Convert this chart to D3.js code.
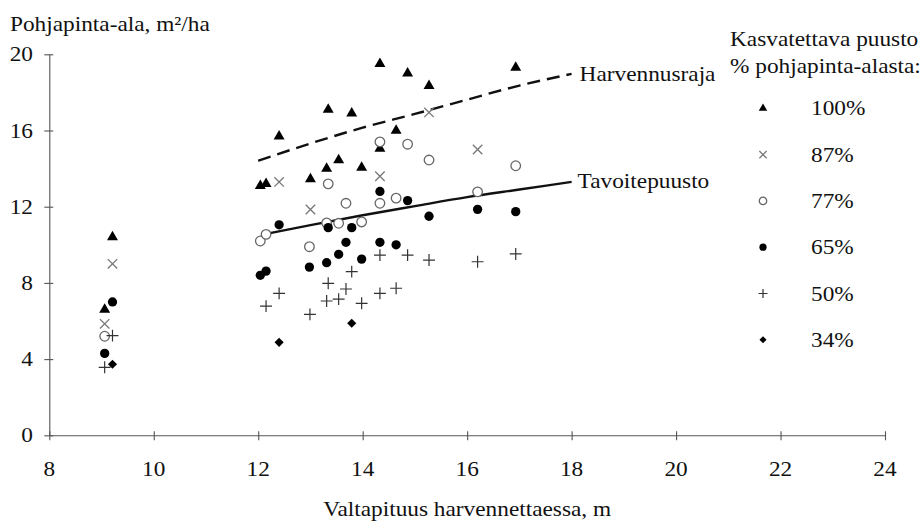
<!DOCTYPE html>
<html>
<head>
<meta charset="utf-8">
<script src="https://cdn.jsdelivr.net/npm/d3@7"></script>
<style>
  body { margin: 0; background: #fff; }
  svg text { font-family: 'Liberation Serif', 'DejaVu Serif', 'Times New Roman', Times, serif; fill: #111; }
</style>
</head>
<body>
<div id="root"></div>
<script>
// tick labels
const xTicks = [8, 10, 12, 14, 16, 18, 20, 22, 24];
const yTicks = [0, 4, 8, 12, 16, 20];

// points per series: [valtapituus m, pohjapinta-ala m2/ha]
const s100 = [[9.21, 10.4], [9.06, 6.6], [12.04, 13.1], [12.15, 13.2], [12.40, 15.7], [13.0, 13.45],
  [13.31, 14.0], [13.34, 17.1], [13.54, 14.45], [13.79, 16.9], [13.98, 14.05], [14.33, 19.5],
  [14.33, 15.05], [14.64, 16.0], [14.86, 19.0], [15.27, 18.35], [16.93, 19.3]];
const s87 = [[9.21, 9.0], [9.06, 5.85], [12.40, 13.3], [13.0, 11.85], [14.33, 13.6], [15.27, 16.95], [16.2, 15.0]];
const s77 = [[9.06, 5.2], [12.04, 10.2], [12.15, 10.55], [12.98, 9.9], [13.31, 11.15], [13.34, 13.2],
  [13.54, 11.13], [13.68, 12.18], [13.98, 11.2], [14.33, 12.18], [14.33, 15.4], [14.64, 12.45],
  [14.86, 15.28], [15.27, 14.45], [16.2, 12.78], [16.93, 14.15]];
const s65 = [[9.21, 7.0], [9.06, 4.3], [12.04, 8.4], [12.15, 8.62], [12.40, 11.05], [12.98, 8.83],
  [13.31, 9.06], [13.34, 10.9], [13.54, 9.5], [13.68, 10.13], [13.79, 10.9], [13.98, 9.25],
  [14.33, 12.8], [14.33, 10.13], [14.64, 10.0], [14.86, 12.32], [15.27, 11.5], [16.2, 11.86], [16.93, 11.74]];
const s50 = [[9.21, 5.23], [9.06, 3.57], [12.15, 6.78], [12.40, 7.45], [12.99, 6.35], [13.31, 7.05],
  [13.34, 7.98], [13.54, 7.15], [13.68, 7.68], [13.79, 8.59], [13.98, 6.93], [14.33, 9.46],
  [14.33, 7.45], [14.64, 7.72], [14.86, 9.46], [15.27, 9.2], [16.2, 9.11], [16.93, 9.52]];
const s34 = [[9.21, 3.73], [12.40, 4.88], [13.79, 5.88]];

// curves
const harvennusraja = [[12, 14.41], [13, 15.32], [14, 16.15], [15, 16.87], [16, 17.62], [17, 18.36], [18, 18.97]];
const tavoitepuusto = [[12.2, 10.6], [13, 11.03], [14, 11.55], [15, 12.03], [16, 12.5], [17, 12.9], [18, 13.3]];

const seriesLabels = ["100%", "87%", "77%", "65%", "50%", "34%"];
const seriesData = [s100, s87, s77, s65, s50, s34];

const SX = 1.11;   // the original's lettering is a little wide
const FS = 21;
const FONT = "'Liberation Serif', 'DejaVu Serif', 'Times New Roman', Times, serif";

const svg = d3.select("#root")
  .append("svg")
  .attr("width", 924)
  .attr("height", 523)
  .attr("font-family", FONT);

const x = d3.scaleLinear().domain([8, 24]).range([49.3, 885]);
const y = d3.scaleLinear().domain([0, 20]).range([435.3, 54.3]);

function label(g, tx, ty, str, anchor) {
  return g.append("text")
    .attr("transform", "translate(" + tx + "," + ty + ") scale(" + SX + ",1)")
    .attr("text-anchor", anchor || "start")
    .attr("font-family", FONT)
    .attr("font-size", FS)
    .text(str);
}

// axes
const yAxis = svg.append("g")
  .attr("transform", "translate(" + x(8) + ",0)")
  .call(d3.axisLeft(y).tickValues(yTicks).tickSize(5).tickSizeOuter(0).tickFormat(""));
yAxis.selectAll(".tick line").attr("x1", 4);

const xAxis = svg.append("g")
  .attr("transform", "translate(0," + y(0) + ")")
  .call(d3.axisBottom(x).tickValues(xTicks).tickSize(5).tickSizeOuter(0).tickFormat(""));
xAxis.selectAll(".tick line").attr("y1", -4);

svg.selectAll(".domain, .tick line").attr("stroke", "#555").attr("stroke-width", 1.1);

yTicks.forEach(function(t) { label(svg, 33, y(t) + 7, String(t), "end"); });
xTicks.forEach(function(t) { label(svg, x(t), 476, String(t), "middle"); });

label(svg, 10, 31, "Pohjapinta-ala, m\u00b2/ha");
label(svg, (x(8) + x(24)) / 2, 516, "Valtapituus harvennettaessa, m", "middle");

// curves
const line = d3.line()
  .x(function(d) { return x(d[0]); })
  .y(function(d) { return y(d[1]); })
  .curve(d3.curveMonotoneX);

svg.append("path")
  .attr("d", line(harvennusraja))
  .attr("fill", "none")
  .attr("stroke", "#111")
  .attr("stroke-width", 2.4)
  .attr("stroke-dasharray", "13,7");

svg.append("path")
  .attr("d", line(tavoitepuusto))
  .attr("fill", "none")
  .attr("stroke", "#111")
  .attr("stroke-width", 2.4);

label(svg, x(18) + 8, y(18.97) + 7, "Harvennusraja");
label(svg, x(18) + 6, y(13.3) + 6, "Tavoitepuusto");

// marker styles
const markers = [
  {type: d3.symbolTriangle, size: 52, fill: "#000", stroke: "none", sw: 0, rot: 0},
  {type: d3.symbolTimes, size: 60, fill: "none", stroke: "#777", sw: 1.3, rot: 0},
  {type: d3.symbolCircle, size: 72, fill: "#fff", stroke: "#666", sw: 1.3, rot: 0},
  {type: d3.symbolCircle, size: 68, fill: "#000", stroke: "none", sw: 0, rot: 0},
  {type: d3.symbolPlus, size: 48, fill: "none", stroke: "#333", sw: 1.2, rot: 0},
  {type: d3.symbolSquare, size: 42, fill: "#000", stroke: "none", sw: 0, rot: 45}
];

seriesData.forEach(function(data, i) {
  const m = markers[i];
  svg.append("g").selectAll("path")
    .data(data)
    .enter().append("path")
      .attr("d", d3.symbol().type(m.type).size(m.size))
      .attr("transform", function(d) { return "translate(" + x(d[0]) + "," + y(d[1]) + ") rotate(" + m.rot + ")"; })
      .attr("fill", m.fill)
      .attr("stroke", m.stroke)
      .attr("stroke-width", m.sw);
});

// legend
const legend = svg.append("g");
label(legend, 730, 46, "Kasvatettava puusto");
label(legend, 730, 73, "% pohjapinta-alasta:");

seriesLabels.forEach(function(s, i) {
  const m = markers[i];
  const cy = 108.3 + i * 46.3;
  legend.append("path")
    .attr("d", d3.symbol().type(m.type).size(m.size * 0.6))
    .attr("transform", "translate(763," + cy + ") rotate(" + m.rot + ")")
    .attr("fill", m.fill)
    .attr("stroke", m.stroke)
    .attr("stroke-width", m.sw);
  label(legend, 811, cy + 7, s);
});
</script>
</body>
</html>
